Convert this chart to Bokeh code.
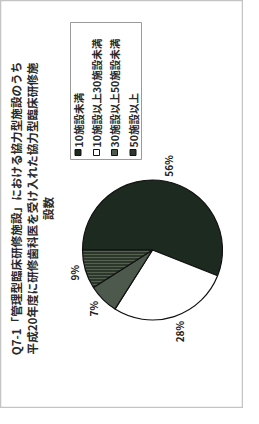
import math
from bokeh.plotting import figure
from bokeh.models import Range1d, ColumnDataSource
from bokeh.core.properties import value
from bokeh.embed import file_html
from bokeh.resources import INLINE

# ---- data ----
categories = ["10施設未満", "10施設以上30施設未満", "30施設以上50施設未満", "50施設以上"]
values = [56, 28, 7, 9]
pct_labels = ["56%", "28%", "7%", "9%"]
title_lines = ["Q7-1「管理型臨床研修施設」における協力型施設のうち",
               "平成20年度に研修歯科医を受け入れた協力型臨床研修施",
               "設数"]

# ---- styles ----
fills = ["#1d2a1f", "#ffffff", "#4d594c", "#2c382c"]
hatches = ["", "", "", "horizontal_line"]
FONT = value("Noto Sans CJK JP")

W, H = 243, 408
p = figure(width=W, height=H, output_backend="svg", toolbar_location=None,
           x_range=Range1d(0, W), y_range=Range1d(0, H), min_border=0)
p.axis.visible = False
p.grid.visible = False
p.outline_line_color = "#c4c4c4"
p.outline_line_width = 1.5
p.background_fill_color = "#ffffff"

def px(X):  # page x -> data x
    return X - 8
def py(Y):  # page y -> data y
    return 416 - Y

# ---- pie (chart is rotated 90deg CCW, 12 o'clock -> west) ----
cx, cy, r = px(160), py(257.5), 70
gap = 6.0
total = float(sum(values))
starts, ends, lx, ly = [], [], [], []
cum = 0.0
for v, lab in zip(values, pct_labels):
    a0 = math.pi - 2 * math.pi * cum / total
    cum += v
    a1 = math.pi - 2 * math.pi * cum / total
    starts.append(a0)
    ends.append(a1)
    mid = (a0 + a1) / 2
    # rotated label: length runs vertically, height horizontally
    half_len = 3.0 * len(lab)
    half_h = 4.0
    ext = abs(math.sin(mid)) * half_len + abs(math.cos(mid)) * half_h
    d = r + gap + ext
    lx.append(cx + d * math.cos(mid))
    ly.append(cy + d * math.sin(mid))

src = ColumnDataSource(dict(start=starts, end=ends, fill=fills, hatch=hatches,
                            cat=categories, val=values))
p.wedge(x=cx, y=cy, radius=r, start_angle="start", end_angle="end",
        direction="clock", fill_color="fill", line_color="#111111",
        line_width=1.2, hatch_pattern="hatch", hatch_color="#56614f",
        hatch_scale=3, hatch_weight=1.0, source=src)

p.text(x=lx, y=ly, text=pct_labels, angle=math.pi / 2, text_align="center",
       text_baseline="middle", text_font=FONT, text_font_size="10px",
       text_font_style="bold", text_color="#222222")

# ---- title (rotated) ----
tx = [px(23), px(39.5), px(55.5)]
p.text(x=tx, y=[py(216)] * 3, text=title_lines, angle=math.pi / 2,
       text_align="center", text_baseline="middle", text_font=FONT,
       text_font_size="11.6px", text_font_style="bold", text_color="#2a2a2a")

# ---- legend (rotated, manual) ----
p.quad(left=px(78), right=px(149), bottom=py(167), top=py(30),
       fill_color="#ffffff", line_color="#9a9a9a", line_width=1)
leg_x = [px(85.5), px(104), px(122), px(140.5)]
p.rect(x=leg_x, y=[py(160)] * 4, width=6, height=6, fill_color=fills,
       line_color="#111111", line_width=1)
p.text(x=leg_x, y=[py(155)] * 4, text=categories, angle=math.pi / 2,
       text_align="left", text_baseline="middle", text_font=FONT,
       text_font_size="10.5px", text_font_style="bold", text_color="#2a2a2a")

open("out.html", "w").write(file_html(p, INLINE))
